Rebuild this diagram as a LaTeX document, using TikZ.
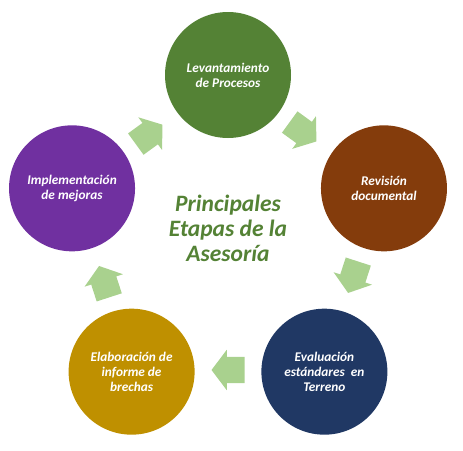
\documentclass[tikz,border=0pt]{standalone}
\usepackage{fontspec}
\setmainfont{Carlito}
\usetikzlibrary{shapes.arrows,calc}
\definecolor{cgreen}{HTML}{548235}
\definecolor{cbrown}{HTML}{843C0C}
\definecolor{cnavy}{HTML}{203864}
\definecolor{cgold}{HTML}{BF9000}
\definecolor{cpurple}{HTML}{7030A0}
\definecolor{arrowgreen}{HTML}{A9D18E}
\begin{document}
\begin{tikzpicture}[x=1pt,y=1pt,
  stage/.style={circle,fill=#1,minimum size=126pt,inner sep=0pt,text=white,align=center,
    font=\fontsize{13.3}{15}\selectfont\bfseries\itshape},
  flow/.style={single arrow,fill=arrowgreen,minimum height=33pt,inner xsep=0pt,inner ysep=13pt,
    text height=0pt,text depth=0pt,text width=0pt,
    single arrow head extend=7pt,single arrow tip angle=106,rotate=#1},
  titletext/.style={text=cgreen,align=center,font=\fontsize{23.5}{25}\selectfont\bfseries\itshape}]
\useasboundingbox (0,0) rectangle (463,-450);
\coordinate (c) at (228,-239);
\node[stage=cgreen] (lev) at ($(c)+(90:164)$) {Levantamiento\\de Procesos};
\node[stage=cbrown] (rev) at ($(c)+(18:164)$) {Revisión\\documental};
\node[stage=cnavy] (eva) at ($(c)+(-54:164)$) {Evaluación\\estándares~ en\\Terreno};
\node[stage=cgold] (ela) at ($(c)+(-126:164)$) {Elaboración de\\informe de\\brechas};
\node[stage=cpurple] (imp) at ($(c)+(162:164)$) {Implementación\\de mejoras};
\node[flow=-36] (a1) at ($(c)+(55:131)+(145:5)$) {};
\node[flow=-108] (a2) at ($(c)+(-17:131)+(73:5)$) {};
\node[flow=180] (a3) at ($(c)+(-90:131)+(0:5)$) {};
\node[flow=108] (a4) at ($(c)+(-161:131)+(-72:5)$) {};
\node[flow=36] (a5) at ($(c)+(127:131)+(216:5)$) {};
\node[titletext] (title) at (228,-228) {Principales\\Etapas de la\\Asesoría};
\end{tikzpicture}
\end{document}
